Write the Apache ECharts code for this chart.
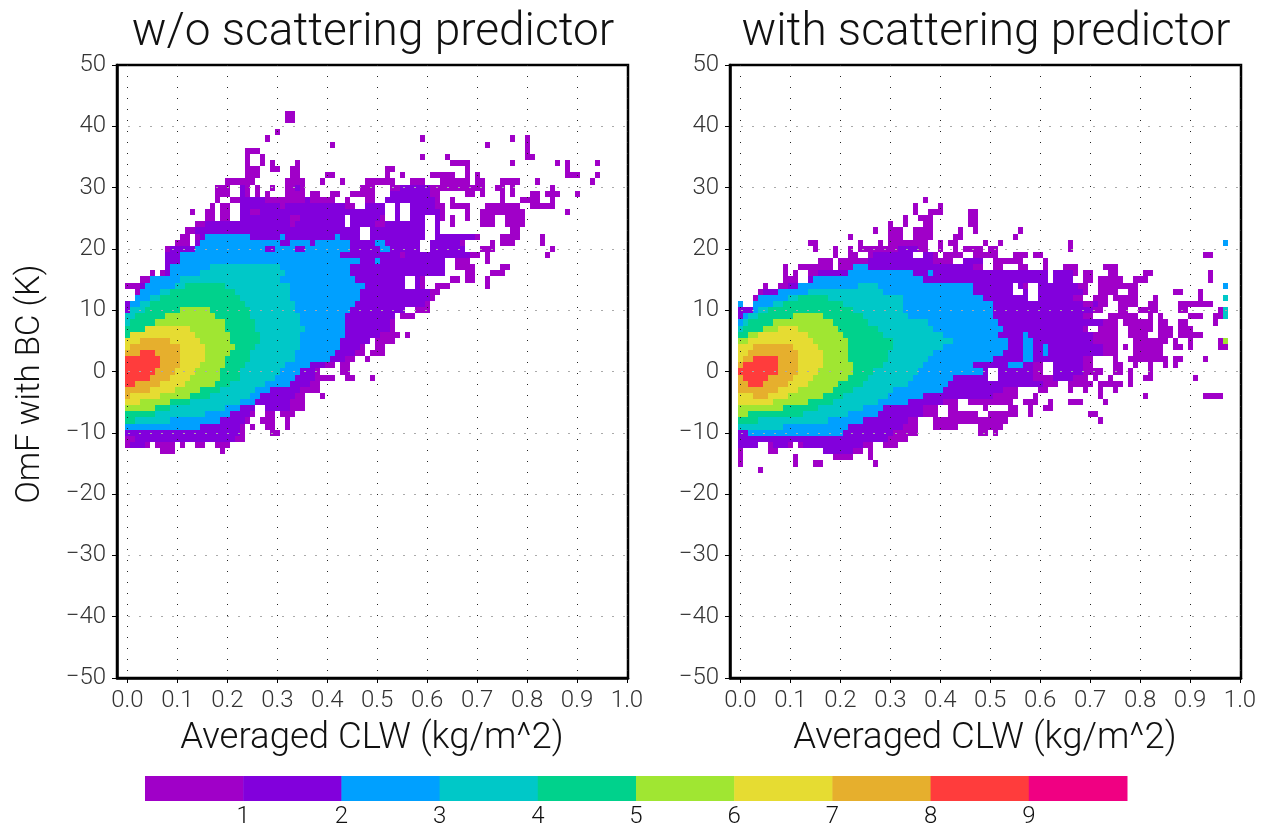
<!DOCTYPE html>
<html><head><meta charset="utf-8">
<style>html,body{margin:0;padding:0;background:#fff}#c{width:1267px;height:829px}</style>
<script src="https://cdn.jsdelivr.net/npm/echarts@6/dist/echarts.min.js"></script>
</head><body><div id="c"></div>
<script>
const levelColors = ['#a000c8','#8200dc','#00a0ff','#00c8c8','#00d28c','#a0e632','#e6dc32','#e6af2d','#ff3c3c','#f00082'];
const colorbarLabels = [1,2,3,4,5,6,7,8,9];
const xTicks = [0,0.1,0.2,0.3,0.4,0.5,0.6,0.7,0.8,0.9,1.0];
const titles = ['w/o scattering predictor','with scattering predictor'];
const xName = 'Averaged CLW (kg/m^2)';
const yName = 'OmF with BC (K)';
// Each row: [OmF bin (K), painted runs of CLW bins (0.01 wide)]; "a-b" = level 1, "L:a-b" = level L, later runs overpaint.
const leftRows = [
[42,"32-33"],[41,"32-33"],[39,"30"],[38,"28 59 77 80"],[37,"41 72 80"],[36,"24-26 80"],
[35,"24 27 59 64 80-81"],[34,"24 27 29 34 65-68 77 86 88 94"],[33,"24-26 29-30 33-34 52-53 68 88"],
[32,"24-26 33-34 40-41 52 55 61-65 68 70 88-90 94"],
[31,"20-25 32-35 39 43 48-53 57-59 63-68 70-71 75-78 82 93"],
[30,"18-20 23-24 26 29 32-35 47-49 53-71 74-75 77 85 2:55-60 2:23 2:34"],
[29,"18-20 23-24 26 28 32-35 37-38 41-42 45-49 53-62 68-69 71 75 77 81-82 84-86 90 2:53-60 2:23"],
[28,"18 21-41 44 48-49 52-62 65 75 79-82 85 2:52-61 2:23-27 2:36"],
[27,"17 19-20 23-45 48-51 54 57-63 65-68 72-78 81-85 2:23-30 2:32-43 2:48-51 2:54 2:57-61"],
[26,"13 16-17 19-20 23-51 54 57-63 68 71-79 88 2:23-51 2:54 2:57-62 1:25-26"],
[25,"16-17 19-20 23-43 45-51 54 57-59 62-63 65 68 71-73 76-79 2:23-43 2:45-50 2:54 2:57-59 2:62 1:33-34"],
[24,"14-43 45-59 62 65 71-73 76-79 2:16-43 2:45-59 2:62 1:33 1:50-51"],
[23,"12-46 49-59 62 77-78 2:14-46 2:49-59 2:62"],
[22,"11-12 14-46 49-59 62-70 75-78 83 2:15-46 2:49-59 2:62-69 3:16-24 3:31 3:42"],
[21,"10-12 14-58 61-67 73 75-77 83 2:14-58 2:61-66 3:15-30 3:33-36 3:38-44 3:50-51"],
[20,"8-58 61-67 71-73 85 2:9-58 2:61-67 3:14-27 3:30-33 3:36-44 3:51-52"],
[19,"8-70 72 84 2:8-68 3:11-42 1:55"],
[18,"8-63 66-68 72 2:8-63 3:11-46 3:50"],
[17,"8-63 66-69 75-76 2:8-63 3:9-44 4:17-30"],
[16,"5 7-63 68-69 73-75 2:8-63 3:9-44 4:15-31"],
[15,"3-6 7-55 58-59 65-66 68-69 72 2:5-55 2:58 3:5-45 4:11-30"],
[14,"0-55 58-59 62-64 72 2:3-55 2:58 3:4-47 4:10-32 5:12-19"],
[13,"2-62 2:3-60 3:3-46 4:7-32 5:9-21"],
[12,"2-61 2:2-60 3:2-46 4:5-32 5:7-22"],
[11,"0-60 2:0-59 3:1-45 4:3-33 5:5-23"],
[10,"0-55 58-60 2:0-55 3:1-44 4:1-33 5:4-24 6:11-16"],
[9,"0-53 55-57 2:0-53 3:0-43 4:0-34 5:2-24 6:8-17"],
[8,"0-53 2:0-52 3:0-43 4:0-34 5:1-25 6:6-19"],
[7,"0-53 2:0-52 3:0-43 4:0-35 5:0-25 6:4-19 7:4-12"],
[6,"0-54 56 2:0-50 3:0-43 4:0-34 5:0-26 6:2-20 7:1-13"],
[5,"0-48 50-53 2:0-48 3:0-42 4:0-34 5:0-26 6:0-20 7:0-14 8:3-8"],
[4,"0-47 50-51 2:0-46 3:0-42 4:0-34 5:0-25 6:0-21 7:0-15 8:1-10"],
[3,"0-47 49-51 2:0-45 3:0-41 4:0-33 5:0-24 6:0-20 7:0-15 8:0-10 9:3-5"],
[2,"0-45 48 2:0-43 3:0-40 4:0-33 5:0-24 6:0-19 7:0-15 8:0-10 9:0-6"],
[1,"0-41 43-44 2:0-39 3:0-36 4:0-31 5:0-23 6:0-19 7:0-14 8:0-10 9:0-6"],
[0,"0-38 43-44 2:0-37 3:0-34 4:0-30 5:0-22 6:0-18 7:0-13 8:0-9 9:0-5"],
[-1,"0-41 44-45 49 2:0-37 3:0-33 4:0-29 5:0-22 6:0-18 7:0-12 8:0-8 9:0-4"],
[-2,"0-38 2:0-36 3:0-32 4:0-27 5:0-20 6:0-17 7:0-11 8:0-6 9:0-1"],
[-3,"0-38 2:0-34 3:0-28 4:0-25 5:0-18 6:0-14 7:0-9 8:0-4"],
[-4,"0-35 39 2:0-33 3:0-26 4:0-24 5:0-16 6:0-12 7:0-6 8:0"],
[-5,"0-35 2:0-32 3:0-25 4:0-22 5:0-12 6:0-8 7:0-2"],
[-6,"0-25 28-35 2:0-25 2:28-32 3:0-22 4:0-19 5:0-8 6:0-5"],
[-7,"0-25 28-29 31-33 2:0-24 3:0-20 4:0-15 5:0-5"],
[-8,"0-24 27-29 32 2:0-23 3:0-18 4:0-8 5:0-1"],
[-9,"0-23 25 28-29 32 2:0-22 3:0-14"],
[-10,"0-23 29-30 2:0-22"],
[-11,"0-23 2:2-21"],
[-12,"0-4 6-9 11 14-15 18-20 2:1-3"],
[-13,"7-9 19"]
];
const rightRows = [
[28,"37"],[27,"35 40"],[26,"35 38-40 46-47"],[25,"33 36-38 46-47"],[24,"30 33 37-38 46-47"],
[23,"27 30-32 35-38 44 47 56"],[22,"22 30-32 35-38 43-44 55"],
[21,"14-15 24 28 30-37 40 42-43 49 52 66 3:97"],
[20,"15 19 22 24-37 40 43 45-48 50-51 66 2:32-35"],
[19,"19 22-23 26-34 37-39 41-44 47-51 55-57 59-60 93-94 2:27-34 2:37-38"],
[18,"16-18 20-42 45-48 51-56 61 2:26-38 2:45-48"],
[17,"9 12-18 20-48 51-52 56-57 61 65-67 73-75 2:24-46 3:23-25"],
[16,"9 11 14-61 63-67 69-70 74-75 81-82 94 2:16-61 2:63-66 3:22-34 3:38"],
[15,"9-11 14-61 63-66 69-70 72-76 79-81 94 2:14-61 2:63-66 3:15-36"],
[14,"5 8-54 56-57 60-69 72-79 3:97 2:10-54 2:56 2:60-67 3:12-46 4:24-27"],
[13,"4-54 57 60-69 72-75 78-79 87-88 92 2:5-54 2:57 2:60-68 3:8-46 4:14-28"],
[12,"3-57 60-68 71-73 75-79 83 92 4:97 2:4-57 2:60-66 3:4-48 4:10-32 5:12-17"],
[11,"0 3-73 76-79 82-83 88-94 2:3-68 2:71 3:0 3:3-50 4:7-32 5:9-20"],
[10,"0-72 76-77 80-83 88-89 96 4:97 2:0-70 3:3-50 4:4-32 5:6-22"],
[9,"0-70 74-79 82 84 90-92 95-96 4:97 2:0-68 3:1-50 4:2-33 5:4-24 6:11-16"],
[8,"0-75 77-82 84-85 88-89 95 2:0-72 3:0-51 4:1-37 5:2-25 6:7-18"],
[7,"0-69 72-75 78-82 84-86 88-90 2:0-68 3:0-52 4:0-38 5:1-27 6:5-19 7:8-11"],
[6,"0-75 78-81 84-86 88-92 2:0-70 3:0-51 3:57 4:0-40 5:0-28 6:2-20 7:4-13"],
[5,"0-75 79-85 87 90 96 6:97 2:0-70 3:0-53 3:57-58 4:0-42 5:0-30 6:0-21 7:2-14"],
[4,"0-75 77 79-84 87-88 90 96-97 2:0-72 3:0-53 3:57-58 3:61 4:0-40 5:0-30 6:0-21 7:0-15 8:3-10"],
[3,"0-75 79-84 2:0-72 3:0-52 3:57-58 3:61 4:0-38 5:0-29 6:0-21 7:0-16 8:2-11"],
[2,"0-70 75 78-85 87-88 93 2:0-68 3:0-50 3:57-58 4:0-37 5:0-29 6:0-21 7:0-16 8:1-11 9:3-7"],
[1,"0-60 63-70 75-76 79 82 85 87 2:0-58 2:63-68 3:0-46 3:54-56 4:0-36 5:0-28 6:0-22 7:0-16 8:0-11 9:1-7"],
[0,"0-49 52-60 63-72 75-76 78 82 2:0-49 2:52-58 2:63-68 3:0-48 4:0-35 5:0-26 6:0-22 7:0-15 8:0-11 9:0-7"],
[-1,"0-49 52-69 71 74 78 81-82 91 2:0-49 2:52-58 2:63-66 3:0-42 4:0-34 5:0-25 6:0-21 7:0-14 8:0-10 9:1-5"],
[-2,"0-63 66-70 72-76 78 2:0-60 3:0-41 4:0-33 5:0-24 6:0-19 7:0-13 8:0-9 9:2-4"],
[-3,"0-55 60-61 66 69 72 75 2:0-52 3:0-40 4:0-30 5:0-22 6:0-18 7:0-11 8:0-7"],
[-4,"0-55 59 72 81 93-96 2:0-50 3:0-36 4:0-29 5:0-20 6:0-16 7:0-9 8:3-5"],
[-5,"0-43 46-54 57-59 62 66-68 73 2:0-40 3:0-33 4:0-27 5:0-18 6:0-13 7:0-6"],
[-6,"0-39 42-43 49 54-55 58 61-62 2:0-36 3:0-28 4:0-24 5:0-15 6:0-8"],
[-7,"0-39 42-47 50-55 58 70-71 2:0-36 3:0-27 4:0-21 5:0-12 6:0-1"],
[-8,"0-35 39-47 48-53 72 2:0-33 3:0-24 4:0-17 5:0-3"],
[-9,"0-35 39-43 48-52 2:0-32 3:0-21 4:0-8"],
[-10,"0-35 48-49 51 2:0-30 3:2-20"],
[-11,"0-33 2:0-29"],
[-12,"0-3 6-10 12-26 29-31 2:0-3 2:7-9 2:13-24"],
[-13,"0 6-7 17-24 26 2:17-22"],
[-14,"0 11 19-22 26"],
[-15,"0 11 15-16 27"],
[-16,"4"]
];

function cellsFrom(rows){
  const out=[];
  rows.forEach(([v,txt])=>{
    const m={};
    txt.split(' ').forEach(t=>{
      let lev=1, r=t;
      if(t.includes(':')){const p=t.split(':');lev=+p[0];r=p[1];}
      const q=r.split('-');const a=+q[0],b=q.length>1?+q[1]:a;
      for(let i=a;i<=b;i++)m[i]=lev;
    });
    Object.keys(m).forEach(i=>out.push([+i*0.01,v,m[i]]));
  });
  return out;
}
function renderCell(params,api){
  const x=api.value(0),y=api.value(1),l=api.value(2);
  const a=api.coord([x-0.005,y+0.5]),b=api.coord([x+0.005,y-0.5]);
  const x0=Math.round(a[0]),y0=Math.round(a[1]),x1=Math.round(b[0]),y1=Math.round(b[1]);
  return {type:'rect',shape:{x:x0,y:y0,width:x1-x0,height:y1-y0},style:{fill:levelColors[l-1]}};
}
function renderBar(params,api){
  const k=api.value(0);
  const a=api.coord([k,1]),b=api.coord([k+1,0]);
  return {type:'rect',shape:{x:a[0],y:a[1],width:b[0]-a[0]+0.5,height:b[1]-a[1]},style:{fill:levelColors[k]}};
}
const TXT='Roboto,"Liberation Sans",sans-serif';
function xAxis(i){return {gridIndex:i,type:'value',min:-0.021,max:1.002,z:3,
  axisLine:{show:true,onZero:false,lineStyle:{color:'#000',width:2.5}},
  axisTick:{show:true,length:5,customValues:xTicks,lineStyle:{color:'#000',width:1}},
  axisLabel:{customValues:xTicks,formatter:v=>v.toFixed(1),color:'#333',fontFamily:TXT,fontWeight:300,fontSize:24,margin:11},
  splitLine:{show:true,lineStyle:{color:'#222',width:1,type:[1,10]}}};}
function yAxis(i){return {gridIndex:i,type:'value',min:-50,max:50,interval:10,z:3,
  axisLine:{show:true,onZero:false,lineStyle:{color:'#000',width:2.5}},
  axisTick:{show:true,length:5,lineStyle:{color:'#000',width:1}},
  axisLabel:{formatter:v=>v<0?'\u2212'+(-v):''+v,color:'#333',fontFamily:TXT,fontWeight:300,fontSize:24,margin:11,padding:[5,0,0,0]},
  splitLine:{show:true,showMinLine:false,showMaxLine:false,lineStyle:{color:'#aaa',width:1,type:[2,9]}}};}
function txt(x,y,s,size,rot){return {type:'text',x:x,y:y,rotation:rot||0,z:10,
  style:{text:s,fill:'#111',font:'300 '+size+'px '+TXT,textAlign:'center',textVerticalAlign:'middle'}};}

const chart=echarts.init(document.getElementById('c'),null,{renderer:'canvas'});
chart.setOption({
  animation:false,backgroundColor:'#fff',
  grid:[
    {left:117,top:65,width:511,height:613,show:true,borderColor:'#000',borderWidth:2.5,backgroundColor:'transparent'},
    {left:730,top:65,width:511,height:613,show:true,borderColor:'#000',borderWidth:2.5,backgroundColor:'transparent'},
    {left:145,top:776,width:982,height:25}
  ],
  xAxis:[xAxis(0),xAxis(1),{gridIndex:2,type:'value',min:0,max:10,
    axisLine:{show:false},axisTick:{show:false},splitLine:{show:false},
    axisLabel:{customValues:colorbarLabels,color:'#111',fontFamily:TXT,fontWeight:300,fontSize:24,margin:4}}],
  yAxis:[yAxis(0),yAxis(1),{gridIndex:2,type:'value',min:0,max:1,show:false}],
  graphic:[
    txt(373,33,titles[0],46),txt(986,33,titles[1],46),
    txt(372,739,xName,36.5),txt(985,739,xName,36.5),
    txt(31,384,yName,33,Math.PI/2)
  ],
  series:[
    {type:'custom',xAxisIndex:0,yAxisIndex:0,z:1,clip:true,silent:true,renderItem:renderCell,data:cellsFrom(leftRows),encode:{x:0,y:1}},
    {type:'custom',xAxisIndex:1,yAxisIndex:1,z:1,clip:true,silent:true,renderItem:renderCell,data:cellsFrom(rightRows),encode:{x:0,y:1}},
    {type:'custom',xAxisIndex:2,yAxisIndex:2,z:1,silent:true,renderItem:renderBar,data:levelColors.map((c,k)=>[k]),encode:{x:0}}
  ]
});
</script></body></html>
